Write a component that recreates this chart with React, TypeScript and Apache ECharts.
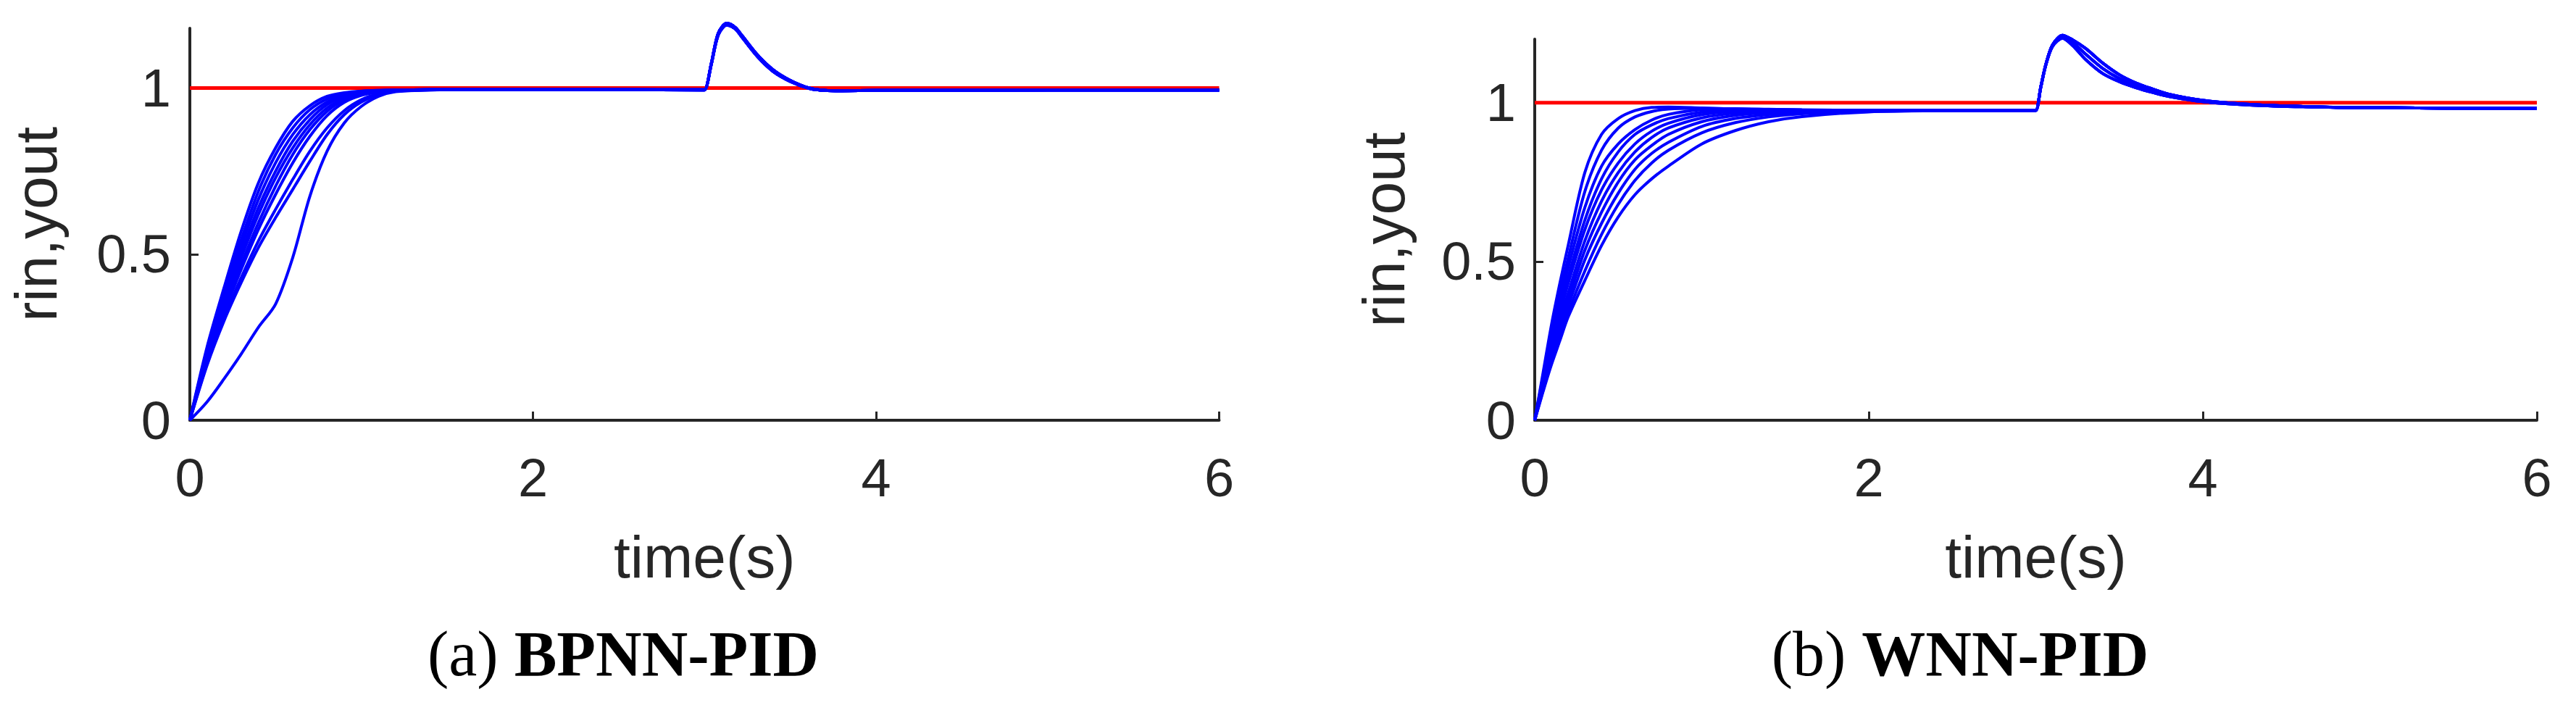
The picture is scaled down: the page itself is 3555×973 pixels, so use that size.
import React, { useEffect, useRef } from "react";
import * as echarts from "echarts";

// ---------- data ----------
const xTicks = [0, 2, 4, 6];
const yTickLabels = [0, 0.5, 1];
const yInnerTicks = [0.5, 1];
const rinTime = [0, 6];
const rinValue = [1, 1];

// (a) BPNN-PID
const bpnnTimeEarly = [0, 0.1, 0.2, 0.3, 0.4, 0.5, 0.6, 0.7, 0.8, 0.9, 1.0, 1.1, 1.2, 1.4, 1.6];
const bpnnCurvesEarly = [
  [0, 0.22, 0.4, 0.57, 0.715, 0.82, 0.9, 0.947, 0.975, 0.986, 0.991, 0.993, 0.994, 0.995, 0.995],
  [0, 0.21, 0.385, 0.545, 0.69, 0.8, 0.88, 0.935, 0.967, 0.982, 0.99, 0.993, 0.994, 0.995, 0.995],
  [0, 0.2, 0.37, 0.525, 0.665, 0.775, 0.86, 0.92, 0.958, 0.978, 0.988, 0.992, 0.994, 0.995, 0.995],
  [0, 0.195, 0.355, 0.505, 0.64, 0.75, 0.84, 0.905, 0.95, 0.974, 0.986, 0.991, 0.994, 0.995, 0.995],
  [0, 0.19, 0.345, 0.49, 0.62, 0.73, 0.82, 0.89, 0.94, 0.969, 0.984, 0.99, 0.993, 0.995, 0.995],
  [0, 0.185, 0.335, 0.47, 0.595, 0.705, 0.8, 0.875, 0.93, 0.964, 0.981, 0.989, 0.993, 0.995, 0.995],
  [0, 0.18, 0.325, 0.455, 0.575, 0.68, 0.775, 0.855, 0.917, 0.957, 0.978, 0.988, 0.993, 0.995, 0.995],
  [0, 0.17, 0.31, 0.43, 0.54, 0.635, 0.725, 0.81, 0.88, 0.932, 0.965, 0.983, 0.991, 0.995, 0.995],
  [0, 0.165, 0.3, 0.415, 0.52, 0.61, 0.695, 0.78, 0.86, 0.92, 0.958, 0.98, 0.99, 0.994, 0.995],
  [0, 0.055, 0.125, 0.2, 0.28, 0.35, 0.49, 0.675, 0.81, 0.895, 0.945, 0.975, 0.989, 0.994, 0.995],
];
const bpnnTimeLate = [2.0, 2.5, 2.98, 3.0, 3.04, 3.08, 3.13, 3.18, 3.22, 3.31, 3.4, 3.5, 3.61, 3.7, 3.8, 4.0, 5.0, 6.0];
const bpnnLateA = [0.995, 0.995, 0.994, 0.994, 1.075, 1.165, 1.195, 1.182, 1.157, 1.099, 1.055, 1.023, 1.0, 0.993, 0.992, 0.993, 0.994, 0.994];
const bpnnLateB = [0.995, 0.995, 0.995, 0.995, 1.072, 1.16, 1.19, 1.178, 1.152, 1.094, 1.05, 1.02, 0.999, 0.993, 0.992, 0.993, 0.994, 0.994];
const bpnnLateAssign = [0, 1, 0, 1, 0, 1, 0, 1, 0, 1];

// (b) WNN-PID
const wnnTimeEarly = [0, 0.05, 0.1, 0.15, 0.2, 0.3, 0.4, 0.5, 0.6, 0.7, 0.8, 1.0, 1.2, 1.4, 1.6, 2.0, 2.5];
const wnnCurvesEarly = [
  [0, 0.15, 0.3, 0.43, 0.55, 0.78, 0.9, 0.95, 0.975, 0.985, 0.986, 0.983, 0.98, 0.978, 0.977, 0.976, 0.976],
  [0, 0.14, 0.28, 0.4, 0.51, 0.72, 0.85, 0.92, 0.955, 0.972, 0.98, 0.982, 0.98, 0.978, 0.977, 0.976, 0.976],
  [0, 0.13, 0.26, 0.37, 0.48, 0.67, 0.8, 0.87, 0.915, 0.945, 0.963, 0.978, 0.981, 0.979, 0.977, 0.976, 0.976],
  [0, 0.125, 0.245, 0.35, 0.45, 0.63, 0.76, 0.845, 0.9, 0.93, 0.95, 0.97, 0.977, 0.978, 0.977, 0.976, 0.976],
  [0, 0.12, 0.235, 0.335, 0.43, 0.6, 0.725, 0.81, 0.87, 0.91, 0.935, 0.962, 0.973, 0.976, 0.976, 0.976, 0.976],
  [0, 0.115, 0.22, 0.315, 0.4, 0.565, 0.69, 0.78, 0.845, 0.89, 0.92, 0.952, 0.967, 0.973, 0.975, 0.976, 0.976],
  [0, 0.11, 0.21, 0.3, 0.38, 0.535, 0.655, 0.75, 0.82, 0.865, 0.9, 0.94, 0.96, 0.969, 0.973, 0.975, 0.976],
  [0, 0.1, 0.195, 0.28, 0.36, 0.505, 0.62, 0.715, 0.79, 0.84, 0.875, 0.925, 0.95, 0.963, 0.97, 0.974, 0.975],
  [0, 0.095, 0.185, 0.265, 0.34, 0.47, 0.585, 0.68, 0.755, 0.81, 0.85, 0.905, 0.937, 0.955, 0.965, 0.972, 0.975],
  [0, 0.09, 0.175, 0.25, 0.325, 0.44, 0.55, 0.64, 0.71, 0.76, 0.8, 0.87, 0.912, 0.94, 0.956, 0.971, 0.975],
];
const wnnTimeLate = [2.98, 3.0, 3.03, 3.06, 3.1, 3.16, 3.22, 3.3, 3.4, 3.5, 3.6, 3.7, 3.8, 4.0, 4.3, 4.6, 5.0, 6.0];
const wnnLateSlow = [0.976, 0.976, 1.05, 1.12, 1.182, 1.212, 1.198, 1.17, 1.125, 1.088, 1.062, 1.043, 1.026, 1.007, 0.994, 0.988, 0.984, 0.982];
const wnnLateMid = [0.976, 0.976, 1.05, 1.12, 1.18, 1.208, 1.19, 1.152, 1.108, 1.076, 1.053, 1.037, 1.022, 1.005, 0.993, 0.988, 0.984, 0.982];
const wnnLateFast = [0.975, 0.975, 1.048, 1.118, 1.177, 1.203, 1.18, 1.135, 1.092, 1.066, 1.047, 1.032, 1.019, 1.003, 0.992, 0.987, 0.984, 0.982];
const wnnLateAssign = [2, 1, 0, 2, 0, 1, 0, 1, 2, 0];

const captionA = { label: "(a)", title: "BPNN-PID" };
const captionB = { label: "(b)", title: "WNN-PID" };

// ---------- styling ----------
const AXIS_COLOR = "#262626";
const SANS = "'Liberation Sans', Arial, Helvetica, sans-serif";
const SERIF = "'Liberation Serif', 'Times New Roman', serif";

function joinCurve(tE: number[], vE: number[], tL: number[], vL: number[]) {
  return tE.map((t, i) => [t, vE[i]]).concat(tL.map((t, i) => [t, vL[i]]));
}

function xAxisFor(gridIndex: number) {
  return {
    gridIndex,
    type: "value",
    min: 0,
    max: 6,
    interval: 2,
    name: "time(s)",
    nameLocation: "middle",
    nameGap: 147,
    nameTextStyle: { fontFamily: SANS, fontSize: 82, color: AXIS_COLOR, lineHeight: 82 },
    axisLine: { show: true, onZero: false, lineStyle: { color: AXIS_COLOR, width: 4 } },
    axisTick: { show: true, inside: true, length: 12, customValues: xTicks, lineStyle: { color: AXIS_COLOR, width: 3 } },
    axisLabel: { fontFamily: SANS, fontSize: 74, color: AXIS_COLOR, margin: 42, lineHeight: 74, customValues: xTicks },
    splitLine: { show: false },
  };
}

function yAxisFor(gridIndex: number, max: number, nameGap: number) {
  return {
    gridIndex,
    type: "value",
    min: 0,
    max,
    interval: 0.5,
    name: "rin,yout",
    nameLocation: "middle",
    nameGap,
    nameTextStyle: { fontFamily: SANS, fontSize: 82, color: AXIS_COLOR, lineHeight: 82 },
    axisLine: { show: true, onZero: false, lineStyle: { color: AXIS_COLOR, width: 4 } },
    axisTick: { show: true, inside: true, length: 12, customValues: yInnerTicks, lineStyle: { color: AXIS_COLOR, width: 3 } },
    axisLabel: { fontFamily: SANS, fontSize: 74, color: AXIS_COLOR, margin: 26, lineHeight: 74, customValues: yTickLabels },
    splitLine: { show: false },
  };
}

function caption(x: number, y: number, c: { label: string; title: string }) {
  return {
    type: "text",
    x,
    y,
    silent: true,
    style: {
      text: `{n|${c.label}} {b|${c.title}}`,
      align: "center",
      verticalAlign: "middle",
      fontFamily: SERIF,
      fontSize: 88,
      fill: "#000",
      rich: {
        n: { fontFamily: SERIF, fontSize: 88, fontWeight: "normal", fill: "#000", lineHeight: 88 },
        b: { fontFamily: SERIF, fontSize: 88, fontWeight: "bold", fill: "#000", lineHeight: 88 },
      },
    },
  };
}

export default function App() {
  const ref = useRef<HTMLDivElement>(null);

  useEffect(() => {
    document.body.style.margin = "0";
    if (!ref.current) return;
    const chart = echarts.init(ref.current, undefined, { renderer: "svg" });

    const series: any[] = [];
    const rinData = rinTime.map((t, i) => [t, rinValue[i]]);
    // panel (a)
    series.push({
      type: "line", xAxisIndex: 0, yAxisIndex: 0, data: rinData, symbol: "none", clip: false,
      lineStyle: { color: "#ff0000", width: 5 }, z: 2, silent: true,
    });
    bpnnCurvesEarly.forEach((vals, i) => {
      const late = bpnnLateAssign[i] === 0 ? bpnnLateA : bpnnLateB;
      series.push({
        type: "line", xAxisIndex: 0, yAxisIndex: 0,
        data: joinCurve(bpnnTimeEarly, vals, bpnnTimeLate, late),
        symbol: "none", smooth: 0.3, clip: false, silent: true,
        lineStyle: { color: "#0000ff", width: 4 }, z: 3,
      });
    });
    // panel (b)
    series.push({
      type: "line", xAxisIndex: 1, yAxisIndex: 1, data: rinData, symbol: "none", clip: false,
      lineStyle: { color: "#ff0000", width: 5 }, z: 2, silent: true,
    });
    const wnnLates = [wnnLateSlow, wnnLateMid, wnnLateFast];
    wnnCurvesEarly.forEach((vals, i) => {
      series.push({
        type: "line", xAxisIndex: 1, yAxisIndex: 1,
        data: joinCurve(wnnTimeEarly, vals, wnnTimeLate, wnnLates[wnnLateAssign[i]]),
        symbol: "none", smooth: 0.3, clip: false, silent: true,
        lineStyle: { color: "#0000ff", width: 4 }, z: 3,
      });
    });

    chart.setOption({
      animation: false,
      backgroundColor: "#ffffff",
      grid: [
        { left: 262, top: 39, width: 1420.5, height: 541 },
        { left: 2118, top: 54, width: 1383, height: 526 },
      ],
      xAxis: [xAxisFor(0), xAxisFor(1)],
      yAxis: [yAxisFor(0, 1.18, 172), yAxisFor(1, 1.2, 168)],
      series,
      graphic: [caption(860, 902, captionA), caption(2705, 902, captionB)],
    });

    return () => chart.dispose();
  }, []);

  return <div ref={ref} style={{ width: 3555, height: 973 }} />;
}
